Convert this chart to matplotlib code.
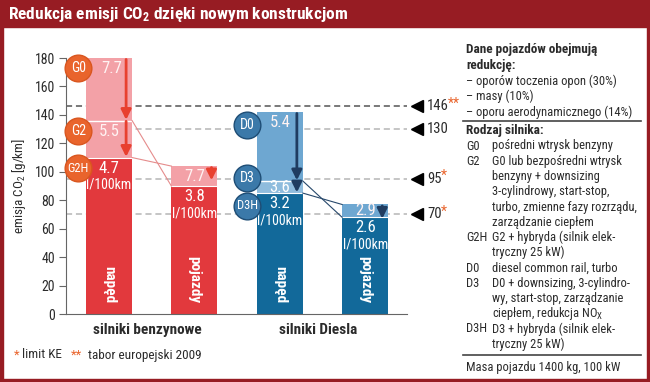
import matplotlib
matplotlib.use("Agg")
import matplotlib.pyplot as plt
from matplotlib.patches import Rectangle
from matplotlib import font_manager as fm
from matplotlib.transforms import offset_copy

names = {f.name for f in fm.fontManager.ttflist}
FONT = 'DejaVu Sans'
for cand in ['Roboto Condensed', 'PT Sans Narrow', 'Liberation Sans Narrow', 'Archivo Narrow']:
    if cand in names:
        FONT = cand
        break
plt.rcParams['font.family'] = [FONT, 'DejaVu Sans']
plt.rcParams['mathtext.fontset'] = 'custom'
plt.rcParams['mathtext.rm'] = FONT
plt.rcParams['mathtext.bf'] = FONT + ':bold'

# ---------------- data ----------------
groups = ['silniki benzynowe', 'silniki Diesla']
bar_names = ['napęd', 'pojazdy', 'napęd', 'pojazdy']
bar_top = [180, 104, 142, 77]          # g/km, top of each bar
bar_mid = [136, None, 93.5, None]      # engine-step boundary
bar_base = [110, 90, 85, 68]           # final (dark) top
consumption_top = ['7.7', '7.7', '5.4', '2.9']
consumption_mid = ['5.5', None, '3.6', None]
consumption_base = ['4.7', '3.8', '3.2', '2.6']
engine_labels_petrol = ['G0', 'G2', 'G2H']
engine_labels_diesel = ['D0', 'D3', 'D3H']
ref_values = [146, 130, 95, 70]
ref_marks = ['**', '', '*', '*']
yticks = list(range(0, 181, 20))

PINK = '#f3a1a7'
RED = '#e2393d'
LBLUE = '#6ea7d1'
LBLUE2 = '#8fbcdd'
DBLUE = '#12699a'
ORANGE = '#e9642c'
CIRC_B = '#3b79a9'
FRAME = '#971c23'
TXT = '#2b2b2b'

W, H = 650, 382
fig = plt.figure(figsize=(6.5, 3.82), dpi=100)
fig.patch.set_facecolor('white')

def fx(x):
    return x / W

def fy(y):
    return 1 - y / H

# frame & title band
fig.patches.append(Rectangle((0, fy(27)), 1, 27 / H, transform=fig.transFigure, color=FRAME, zorder=0))
fig.patches.append(Rectangle((0, 0), 3 / W, 1, transform=fig.transFigure, color=FRAME, zorder=0))
fig.patches.append(Rectangle((fx(647), 0), 3 / W, 1, transform=fig.transFigure, color=FRAME, zorder=0))
fig.patches.append(Rectangle((0, 0), 1, 3 / H, transform=fig.transFigure, color=FRAME, zorder=0))
fig.text(fx(8), fy(14), r'Redukcja emisji CO$\mathbf{_2}$ dzięki nowym konstrukcjom',
         color='white', fontsize=12.5, fontweight='bold', va='center', ha='left')

# axes
ax_l, ax_r, ax_b, ax_t = 66, 407, 314, 58
ax = fig.add_axes([fx(ax_l), fy(ax_b), (ax_r - ax_l) / W, (ax_b - ax_t) / H])
ax.set_facecolor('none')
pos = [0, 1, 2, 3]
bw = 0.54
ax.set_xlim(-0.504, 3.49)
ax.set_ylim(0, 180)
for s in ['top', 'right']:
    ax.spines[s].set_visible(False)
ax.spines['left'].set_color('#666666')
ax.spines['bottom'].set_color('#666666')
ax.set_xticks([])
ax.set_yticks(yticks)
ax.tick_params(axis='y', length=5, color='#666666', labelsize=10, labelcolor=TXT, pad=3)
ax.set_ylabel(r'emisja CO$\mathregular{_2}$ [g/km]', fontsize=9.5, color=TXT, labelpad=5)

# reference dashed lines + markers
mk_tr = offset_copy(ax.get_yaxis_transform(), fig=fig, x=10, y=0, units='dots')
for v, mk in zip(ref_values, ref_marks):
    col = '#555555' if mk == '**' else '#b5b5b5'
    ax.axhline(v, color=col, lw=1.1, ls=(0, (4, 2.5)), zorder=1)
    ax.plot([1.0], [v], transform=mk_tr, marker='<', ms=9, color='black', clip_on=False, zorder=5)
    t = ax.annotate(str(v), xy=(1.0, v), xycoords=ax.get_yaxis_transform(), xytext=(14.5, 0),
                    textcoords='offset points', ha='left', va='center', fontsize=10.5, color=TXT)
    if mk:
        ax.annotate(mk, xy=(1, 0.5), xycoords=t, xytext=(-0.5, 2), textcoords='offset points',
                    ha='left', va='center', fontsize=10, color=ORANGE)

# bars
name_y = [21, 24, 21, 24]
for i in pos:
    blue = i >= 2
    light = LBLUE if blue else PINK
    dark = DBLUE if blue else RED
    ax.bar(pos[i], bar_base[i], width=bw, color=dark, zorder=2)
    if bar_mid[i] is not None:
        ax.bar(pos[i], bar_top[i] - bar_mid[i], bottom=bar_mid[i], width=bw, color=light, zorder=2)
        ax.bar(pos[i], bar_mid[i] - bar_base[i], bottom=bar_base[i], width=bw,
               color=(LBLUE2 if blue else PINK), zorder=2)
        ax.plot([pos[i] - bw / 2, pos[i] + bw / 2], [bar_mid[i]] * 2, color='white', lw=1, zorder=3)
    else:
        ax.bar(pos[i], bar_top[i] - bar_base[i], bottom=bar_base[i], width=bw, color=light, zorder=2)
    ax.plot([pos[i] - bw / 2, pos[i] + bw / 2], [bar_base[i]] * 2, color='white', lw=0.8, zorder=3)
    ax.text(pos[i], name_y[i], bar_names[i], rotation=270, ha='center', va='center', color='white',
            fontsize=11, fontweight='bold', zorder=4)

# connecting lines
for a, b, col in [(0, 1, '#e58c8c'), (2, 3, '#27486b')]:
    ax.plot([pos[a] + bw / 2, pos[b] - bw / 2], [bar_mid[a], bar_base[b]], color=col, lw=0.8, zorder=3)
    ax.plot([pos[a] + bw / 2, pos[b] - bw / 2], [bar_base[a], bar_top[b]], color=col, lw=0.8, zorder=3)

# arrows
def arrow(x, y0, y1, col):
    ax.annotate('', xy=(x, y1), xytext=(x, y0),
                arrowprops=dict(arrowstyle='-|>,head_length=0.6,head_width=0.3', color=col, lw=2,
                                shrinkA=0, shrinkB=0), zorder=4)

for i in pos:
    col = '#1f3c60' if i >= 2 else '#e8402f'
    xa = pos[i] + bw / 2 - 0.07
    if bar_mid[i] is not None:
        arrow(xa, bar_top[i] - 1, bar_mid[i] + 0.5, col)
        arrow(xa, bar_mid[i] - 0.5, bar_base[i] + 0.5, col)
    else:
        arrow(xa, bar_top[i] - 1, bar_top[i] - 10, col)

# value texts
VC = '#fff3f3'
for i in pos:
    xt = pos[i] + (0.03 if i == 0 else 0)
    yt = bar_top[i] - 7.5 if bar_mid[i] is not None else (bar_top[i] + bar_base[i]) / 2
    ax.text(xt, yt, consumption_top[i], ha='center', va='center', color=VC, fontsize=12, zorder=4)
    if bar_mid[i] is not None:
        if i == 0:
            ax.text(pos[i], bar_mid[i] - 8, consumption_mid[i], ha='center', va='center',
                    color=VC, fontsize=12, zorder=4)
        else:
            ax.text(pos[i], (bar_mid[i] + bar_base[i]) / 2 - 0.5, consumption_mid[i], ha='center',
                    va='center', color='white', fontsize=12, zorder=4)
    ax.text(pos[i], bar_base[i] - 7.5, consumption_base[i], ha='center', va='center', color='white',
            fontsize=12, zorder=4)
    ax.text(pos[i], bar_base[i] - 19, 'l/100km', ha='center', va='center', color='white',
            fontsize=10, zorder=4)

# engine circles
def circ(x, y, label, fc, ec):
    ax.scatter([x], [y], s=370, color=fc, edgecolors=ec, linewidths=1, zorder=6, clip_on=False)
    ax.text(x, y, label, ha='center', va='center', color='white',
            fontsize=9 if len(label) > 2 else 10, zorder=7)

cx_p = pos[0] - bw / 2 - 0.09
circ(cx_p, bar_top[0] - 7, engine_labels_petrol[0], ORANGE, '#d9561f')
circ(cx_p, bar_mid[0] - 7.5, engine_labels_petrol[1], ORANGE, '#d9561f')
circ(cx_p, bar_base[0] - 7.5, engine_labels_petrol[2], ORANGE, '#d9561f')
cx_d = pos[2] - bw / 2 - 0.11
circ(cx_d, bar_top[2] - 9, engine_labels_diesel[0], CIRC_B, '#1e4d75')
circ(cx_d, bar_mid[2] + 2, engine_labels_diesel[1], CIRC_B, '#1e4d75')
circ(cx_d, bar_base[2] - 9, engine_labels_diesel[2], CIRC_B, '#1e4d75')

# group labels
for g, (a, b) in zip(groups, [(0, 1), (2, 3)]):
    ax.text((pos[a] + pos[b]) / 2 - 0.05, -11.3, g, ha='center', va='center', fontsize=11,
            fontweight='bold', color=TXT, clip_on=False)

# footnote
fig.text(fx(14), fy(355), '*', color=ORANGE, fontsize=9.5, va='center')
fig.text(fx(22), fy(355), 'limit KE', color=TXT, fontsize=9.5, va='center')
fig.text(fx(71), fy(355), '**', color=ORANGE, fontsize=9.5, va='center')
fig.text(fx(88), fy(355), 'tabor europejski 2009', color=TXT, fontsize=9.5, va='center')

# right panel
FS = 9
x0, x1 = 466, 492
fig.text(fx(x0), fy(50), 'Dane pojazdów obejmują', fontsize=9.5, fontweight='bold', color=TXT, va='center')
fig.text(fx(x0), fy(66), 'redukcję:', fontsize=9.5, fontweight='bold', color=TXT, va='center')
for k, s in enumerate(['– oporów toczenia opon (30%)', '– masy (10%)', '– oporu aerodynamicznego (14%)']):
    fig.text(fx(x0), fy(81 + 15.5 * k), s, fontsize=FS, color=TXT, va='center')
fig.add_artist(plt.Line2D([fx(463), fx(641)], [fy(121), fy(121)], color='#444444', lw=1.2))
fig.text(fx(x0), fy(131), 'Rodzaj silnika:', fontsize=9.5, fontweight='bold', color=TXT, va='center')
rows = [('G0', 'pośredni wtrysk benzyny'),
        ('G2', 'G0 lub bezpośredni wtrysk'),
        ('', 'benzyny + downsizing'),
        ('', '3-cylindrowy, start-stop,'),
        ('', 'turbo, zmienne fazy rozrządu,'),
        ('', 'zarządzanie ciepłem'),
        ('G2H', 'G2 + hybryda (silnik elek-'),
        ('', 'tryczny 25 kW)'),
        ('D0', 'diesel common rail, turbo'),
        ('D3', 'D0 + downsizing, 3-cylindro-'),
        ('', 'wy, start-stop, zarządzanie'),
        ('', r'ciepłem, redukcja NO$\mathregular{_X}$'),
        ('D3H', 'D3 + hybryda (silnik elek-'),
        ('', 'tryczny 25 kW)')]
for k, (a, b) in enumerate(rows):
    yy = 146 + 15.25 * k
    if a:
        fig.text(fx(x0), fy(yy), a, fontsize=FS, color=TXT, va='center')
    fig.text(fx(x1), fy(yy), b, fontsize=FS, color=TXT, va='center')
fig.add_artist(plt.Line2D([fx(463), fx(641)], [fy(355), fy(355)], color='#444444', lw=1.2))
fig.text(fx(x0), fy(368), 'Masa pojazdu 1400 kg, 100 kW', fontsize=FS, color=TXT, va='center')

fig.savefig('out.png', dpi=100)
